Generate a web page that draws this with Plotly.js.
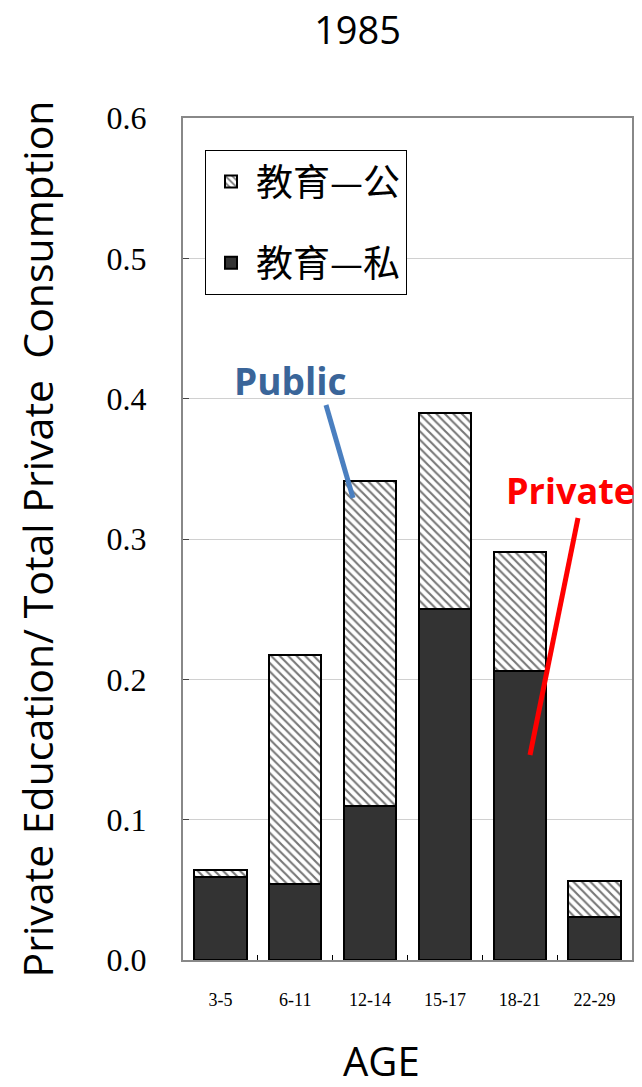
<!DOCTYPE html>
<html>
<head>
<meta charset="utf-8">
<script src="https://cdn.plot.ly/plotly-3.0.1.min.js"></script>
<style>html,body{margin:0;padding:0;background:#fff;}#chart{width:642px;height:1087px;}</style>
</head>
<body>
<div id="chart"></div>
<script>
const categories = ["3-5", "6-11", "12-14", "15-17", "18-21", "22-29"];
const privateValues = [0.059, 0.054, 0.110, 0.250, 0.206, 0.031];
const publicValues = [0.005, 0.163, 0.231, 0.140, 0.085, 0.025];
const yTickValues = [0, 0.1, 0.2, 0.3, 0.4, 0.5, 0.6];
const yTickLabels = ["0.0", "0.1", "0.2", "0.3", "0.4", "0.5", "0.6"];
const seriesNames = ["教育—私", "教育—公"];
const xTitle = "AGE";

const traces = [
  {
    type: "bar", x: categories, y: privateValues, name: seriesNames[0], legendgroup: "b", legendrank: 2,
    marker: {color: "#333333", line: {color: "#000000", width: 2}},
    width: 0.7
  },
  {
    type: "bar", x: categories, y: publicValues, name: seriesNames[1], legendgroup: "a", legendrank: 1,
    marker: {color: "#ffffff", line: {color: "#000000", width: 2},
      pattern: {shape: "\\", fgcolor: "#777777", bgcolor: "#ffffff", size: 6, solidity: 0.35}},
    width: 0.7
  }
];

const layout = {
  width: 642, height: 1087,
  margin: {l: 183, r: 10, t: 118, b: 127},
  barmode: "stack",
  paper_bgcolor: "#ffffff", plot_bgcolor: "#ffffff",
  showlegend: true,
  legend: {
    x: 0.049, y: 0.962, xanchor: "left", yanchor: "top",
    bordercolor: "#000000", borderwidth: 1, bgcolor: "#ffffff",
    font: {family: "Noto Sans CJK SC", size: 37, color: "#000"},
    traceorder: "grouped", tracegroupgap: 30, itemwidth: 40
  },
  title: {text: "1985", x: 0.557, xanchor: "center", y: 0.972, yanchor: "middle",
    font: {family: "Open Sans, sans-serif", size: 38, color: "#000"}},
  xaxis: {
    type: "category", range: [-0.5, 5.5],
    showline: true, linecolor: "#888888", linewidth: 2, mirror: true,
    ticks: "inside", tickcolor: "#000", ticklen: 5, tickson: "boundaries",
    tickfont: {family: "Liberation Serif, serif", size: 18, color: "#000"},
    ticklabelstandoff: 22,
    showgrid: false
  },
  yaxis: {
    range: [0, 0.6], tickvals: yTickValues, ticktext: yTickLabels,
    showline: true, linecolor: "#888888", linewidth: 2, mirror: true,
    ticks: "inside", tickcolor: "#444", ticklen: 6,
    showgrid: true, gridcolor: "#d0d0d0", gridwidth: 1,
    tickfont: {family: "Liberation Serif, serif", size: 32, color: "#000"},
    ticklabelstandoff: 28,
    title: {text: "Private Education/ Total Private  Consumption",
      font: {family: "Open Sans, sans-serif", size: 41, color: "#000"}, standoff: 40},
    zeroline: false
  },
  annotations: [
    {text: xTitle, xref: "paper", yref: "paper", x: (381-183)/449, y: (960-1060)/842,
      xanchor: "center", yanchor: "middle", showarrow: false,
      font: {family: "Open Sans, sans-serif", size: 40, color: "#000"}},
    {text: "<b>Public</b>", xref: "paper", yref: "paper", x: (290-183)/449, y: (960-380)/842,
      xanchor: "center", yanchor: "middle",
      showarrow: false, font: {family: "Open Sans, sans-serif", size: 37, color: "#3a6599"}},
    {text: "<b>Private</b>", xref: "paper", yref: "paper", x: (570-183)/449, y: (960-490)/842,
      xanchor: "center", yanchor: "middle",
      showarrow: false, font: {family: "Open Sans, sans-serif", size: 36, color: "#ff0000"}}
  ],
  shapes: [
    {type: "line", xref: "paper", yref: "paper", x0: (326-183)/449, y0: (960-405)/842,
      x1: (353-183)/449, y1: (960-498)/842, line: {color: "#4a7fc0", width: 5}},
    {type: "line", xref: "paper", yref: "paper", x0: (578-183)/449, y0: (960-518)/842,
      x1: (530-183)/449, y1: (960-755)/842, line: {color: "#ff0000", width: 5}}
  ]
};

Plotly.newPlot("chart", traces, layout, {displayModeBar: false, staticPlot: true});
</script>
</body>
</html>
